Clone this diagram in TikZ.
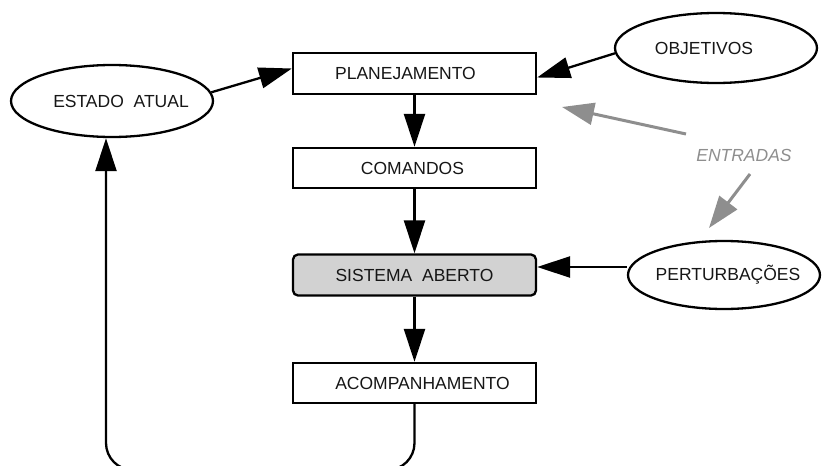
\documentclass[tikz,border=0pt]{standalone}
\usepackage{fontspec}
\setmainfont{Liberation Sans}
\usetikzlibrary{shapes.geometric,arrows.meta}

\definecolor{inkgray}{HTML}{161616}
\definecolor{inputgray}{HTML}{8E8E8E}
\definecolor{sysfill}{HTML}{D2D2D2}

\begin{document}
\begin{tikzpicture}[x=1pt,y=-1pt,
  font=\fontsize{17.5}{20}\selectfont,
  every label/.style={text=inkgray, inner sep=0pt},
  stepbox/.style={draw, line width=2.3pt, rectangle, minimum width=243pt, inner sep=0pt},
  oval/.style={draw, line width=2.3pt, ellipse, inner sep=0pt},
  flow/.style={line width=2.3pt, -{Triangle[length=33pt,width=21pt]}},
  inflow/.style={line width=3pt, inputgray, -{Triangle[length=32pt,width=22pt]}}
]
\useasboundingbox (0,0) rectangle (823,466);
\clip (0,0) rectangle (823,466);

% process column
\node[stepbox, minimum height=41pt, label={[xshift=-9pt]center:PLANEJAMENTO}] (plan) at (414.5,73.5) {};
\node[stepbox, minimum height=40pt, label={[xshift=-2pt]center:COMANDOS}] (cmd) at (414.5,168) {};
\node[stepbox, minimum height=41pt, fill=sysfill, rounded corners=5pt,
      label={[xshift=0pt]center:SISTEMA\ \ ABERTO}] (sist) at (414.5,275) {};
\node[stepbox, minimum height=40pt, label={[xshift=8pt]center:ACOMPANHAMENTO}] (acomp) at (414.5,383) {};

% surrounding states and inputs
\node[oval, minimum width=202pt, minimum height=72pt, label={[xshift=9pt]center:ESTADO\ \ ATUAL}] (estado) at (112,101) {};
\node[oval, minimum width=202pt, minimum height=70pt, label={[xshift=-12pt]center:OBJETIVOS}] (obj) at (716,48) {};
\node[oval, minimum width=192pt, minimum height=68pt, label={[xshift=4pt]center:PERTURBAÇÕES}] (pert) at (724,275) {};

\node[text=inputgray, font=\fontsize{17.5}{20}\selectfont\itshape] (entradas) at (744,155) {ENTRADAS};

% main flow
\draw[flow] (plan) -- (cmd);
\draw[flow] (cmd) -- (sist);
\draw[flow] (sist) -- (acomp);
\draw[flow] (estado.5) -- ([yshift=5pt]plan.west);
\draw[flow] (obj.183) -- ([yshift=-4pt]plan.east);
\draw[flow] ([yshift=8pt]pert.west) -- ([yshift=8pt]sist.east);

% feedback loop
\coordinate (loopL) at (106,470);
\draw[flow, rounded corners=27pt] (acomp.south) |- (loopL) -- (loopL |- estado.south);

% input markers
\coordinate (g1s) at (686,134);
\coordinate (g1e) at (562,107);
\coordinate (g2s) at (750,174);
\coordinate (g2e) at (709,228);
\draw[inflow] (g1s) -- (g1e);
\draw[inflow] (g2s) -- (g2e);
\end{tikzpicture}
\end{document}
